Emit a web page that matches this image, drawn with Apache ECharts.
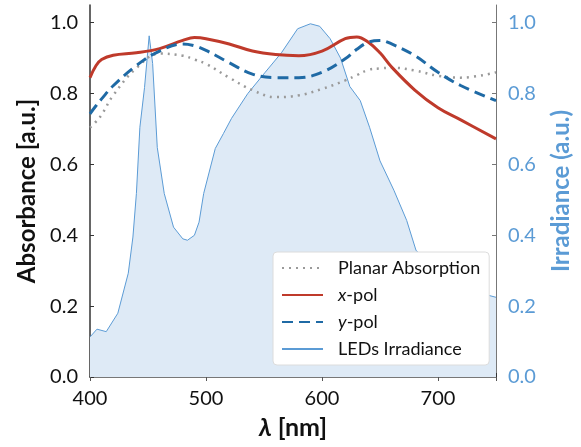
<!DOCTYPE html>
<html>
<head>
<meta charset="utf-8">
<script src="https://cdn.jsdelivr.net/npm/echarts@6/dist/echarts.min.js"></script>
<style>
html, body { margin: 0; padding: 0; background: #fff; }
#chart { width: 581px; height: 447px; }
</style>
</head>
<body>
<div id="chart"></div>
<script>
// wavelengths (nm) for absorbance curves
var absWl = [400, 405, 410, 420, 440, 460, 480, 490, 500, 520, 540, 560, 580, 600, 620, 630, 640, 650, 660, 680, 700, 720, 750];
var planar = [0.704, 0.72, 0.74, 0.795, 0.872, 0.913, 0.907, 0.896, 0.884, 0.845, 0.81, 0.79, 0.795, 0.813, 0.837, 0.852, 0.867, 0.871, 0.873, 0.865, 0.85, 0.845, 0.86];
var xPol = [0.845, 0.878, 0.896, 0.908, 0.915, 0.927, 0.95, 0.958, 0.955, 0.94, 0.92, 0.91, 0.907, 0.92, 0.955, 0.96, 0.945, 0.915, 0.875, 0.81, 0.76, 0.725, 0.672];
var yPol = [0.743, 0.765, 0.785, 0.822, 0.879, 0.92, 0.94, 0.935, 0.922, 0.887, 0.855, 0.845, 0.845, 0.86, 0.898, 0.925, 0.945, 0.95, 0.94, 0.907, 0.86, 0.822, 0.78];

// LED irradiance
var irrWl = [400, 406, 414, 424, 433, 437, 440, 443, 447, 451, 454, 458, 464, 472, 480, 484, 490, 494, 498, 508, 515, 522, 536, 551, 565, 579, 590, 598, 607, 616, 624, 633, 641, 650, 662, 673, 681, 700, 720, 735, 743, 750];
var irr = [0.113, 0.135, 0.128, 0.18, 0.293, 0.395, 0.518, 0.705, 0.817, 0.963, 0.885, 0.648, 0.518, 0.423, 0.39, 0.386, 0.40, 0.437, 0.518, 0.645, 0.687, 0.73, 0.80, 0.86, 0.915, 0.983, 0.997, 0.99, 0.955, 0.90, 0.82, 0.78, 0.705, 0.61, 0.527, 0.442, 0.358, 0.29, 0.25, 0.232, 0.231, 0.225];

var xTicks = [400, 500, 600, 700];
var yTicks = [0.0, 0.2, 0.4, 0.6, 0.8, 1.0];

function pairs(xs, ys) {
	var out = [];
	for (var i = 0; i < xs.length; i++) out.push([xs[i], ys[i]]);
	return out;
}

var font = 'Lato, "Open Sans", sans-serif';
var irrColor = '#5b9bd5';

var myChart = echarts.init(document.getElementById('chart'));
var option = {
	animation: false,
	textStyle: { fontFamily: font },
	grid: { left: 90, right: 80, top: 5, bottom: 70 },
	legend: {
		orient: 'vertical',
		left: 273,
		top: 252,
		padding: [7, 9, 7, 8],
		backgroundColor: '#fff',
		borderColor: '#dcdcdc',
		borderWidth: 1,
		borderRadius: 4,
		itemWidth: 41,
		itemHeight: 14,
		itemGap: 9,
		itemStyle: { opacity: 0 }, // hide the symbol, keep the line sample
		data: ['Planar Absorption', 'x-pol', 'y-pol', 'LEDs Irradiance'],
		formatter: function(name) {
			if (name == 'x-pol') return '{i|x}-pol';
			if (name == 'y-pol') return '{i|y}-pol';
			return name;
		},
		textStyle: {
			fontFamily: font,
			fontSize: 18,
			color: '#111',
			padding: [0, 0, 0, 10],
			rich: { i: { fontStyle: 'italic', fontFamily: font, fontSize: 18, color: '#111' } }
		}
	},
	xAxis: [
		{
			type: 'value',
			min: 400,
			max: 750,
			interval: 100,
			name: '{l|λ} [nm]',
			nameLocation: 'middle',
			nameGap: 38,
			nameTextStyle: {
				fontFamily: font, fontSize: 25, fontWeight: 'bold', color: '#111',
				rich: { l: { fontStyle: 'italic', fontFamily: font, fontSize: 25, fontWeight: 'bold', color: '#111' } }
			},
			axisLine: { lineStyle: { color: '#333', width: 1.5 } },
			axisTick: { inside: true, length: 4, lineStyle: { color: '#333' } },
			axisLabel: {
				fontSize: 20, color: '#111', margin: 12,
				formatter: function(v) { return xTicks.indexOf(v) >= 0 ? v : ''; }
			},
			splitLine: { show: false }
		},
		{
			type: 'value',
			position: 'top',
			min: 400,
			max: 750,
			interval: 100,
			axisLine: { lineStyle: { color: '#777' } },
			axisTick: { inside: true, length: 4, lineStyle: { color: '#555' } },
			axisLabel: { show: false },
			splitLine: { show: false }
		}
	],
	yAxis: [
		{
			type: 'value',
			min: 0,
			max: 1.05,
			interval: 0.2,
			name: 'Absorbance [a.u.]',
			nameLocation: 'middle',
			nameGap: 48,
			nameTextStyle: { fontFamily: font, fontSize: 24, fontWeight: 'bold', color: '#111' },
			axisLine: { show: true, lineStyle: { color: '#333', width: 1.5 } },
			axisTick: { show: true, inside: true, length: 4, lineStyle: { color: '#333' } },
			axisLabel: {
				fontSize: 20, color: '#111', margin: 12, showMaxLabel: false,
				formatter: function(v) { return v.toFixed(1); }
			},
			splitLine: { show: false }
		},
		{
			type: 'value',
			position: 'right',
			min: 0,
			max: 1.05,
			interval: 0.2,
			name: 'Irradiance (a.u.)',
			nameLocation: 'middle',
			nameGap: 53,
			nameTextStyle: { fontFamily: font, fontSize: 24, fontWeight: 'bold', color: irrColor },
			axisLine: { show: true, lineStyle: { color: '#777' } },
			axisTick: { show: true, inside: true, length: 4, lineStyle: { color: '#777' } },
			axisLabel: {
				fontSize: 20, color: irrColor, margin: 12, showMaxLabel: false,
				formatter: function(v) { return v.toFixed(1); }
			},
			splitLine: { show: false }
		}
	],
	series: [
		{
			name: 'LEDs Irradiance',
			type: 'line',
			yAxisIndex: 1,
			symbol: 'none',
			z: 1,
			data: pairs(irrWl, irr),
			lineStyle: { color: irrColor, width: 1 },
			itemStyle: { color: irrColor },
			areaStyle: { color: '#deeaf6', opacity: 1 }
		},
		{
			name: 'Planar Absorption',
			type: 'line',
			symbol: 'none',
			smooth: 0.4,
			z: 3,
			data: pairs(absWl, planar),
			lineStyle: { color: '#9a9a9a', width: 2.5, type: [2, 5] },
			itemStyle: { color: '#9a9a9a' }
		},
		{
			name: 'x-pol',
			type: 'line',
			symbol: 'none',
			smooth: 0.4,
			z: 4,
			data: pairs(absWl, xPol),
			lineStyle: { color: '#bf3a2b', width: 3 },
			itemStyle: { color: '#bf3a2b' }
		},
		{
			name: 'y-pol',
			type: 'line',
			symbol: 'none',
			smooth: 0.4,
			z: 5,
			data: pairs(absWl, yPol),
			lineStyle: { color: '#1f6aa5', width: 3, type: [11, 6] },
			itemStyle: { color: '#1f6aa5' }
		}
	]
};
myChart.setOption(option);
</script>
</body>
</html>
